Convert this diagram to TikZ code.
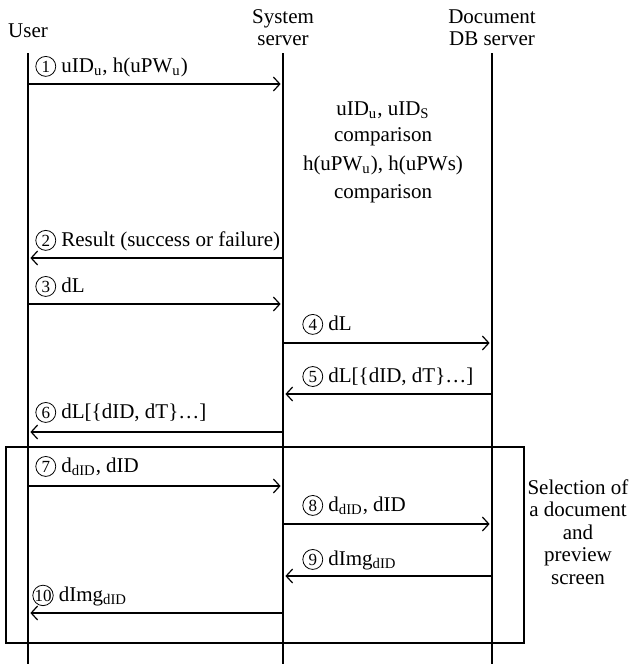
\documentclass[tikz,border=0pt]{standalone}
\usepackage{fontspec}
\setmainfont{Liberation Serif}
\usetikzlibrary{arrows.meta}
\newcommand\cnum[1]{\tikz[baseline=(cn.base)]\node[draw,circle,line width=0.4pt,inner sep=0pt,minimum size=0.95em,font=\fontsize{8.5}{9}\selectfont](cn){#1};}
\begin{document}
\begin{tikzpicture}[x=0.5pt,y=-0.5pt,
  font=\fontsize{10.5}{12}\selectfont,
  life/.style={line width=0.6pt},
  msg/.style={line width=0.6pt,-{Straight Barb[length=3.2pt,width=7pt]},shorten >=1.2pt},
  lbl/.style={anchor=base west,inner sep=0pt},
  ctr/.style={anchor=base,inner sep=0pt},
  hdr/.style={align=center,inner sep=0pt,anchor=base,font=\fontsize{10.5}{10.5}\selectfont}]
\useasboundingbox (0,0) rectangle (630,664);
% headers (base anchor = last line)
\node[hdr] (huser) at (28,38) {User};
\node[hdr] (hsys) at (283,45) {System\\server};
\node[hdr] (hdb) at (492,45) {Document\\DB server};
% lifelines
\coordinate (ut) at (28,53);  \coordinate (ub) at (28,664);
\coordinate (st) at (283,53); \coordinate (sb) at (283,664);
\coordinate (dt) at (492,53); \coordinate (db) at (492,664);
\draw[life] (ut) -- (ub);
\draw[life] (st) -- (sb);
\draw[life] (dt) -- (db);
% frame
\draw[life] (6,447) rectangle (524,643);
% message anchors
\foreach \n/\y in {1/84,2/258,3/304,6/432,7/486,10/613}{
  \coordinate (u\n) at (28,\y); \coordinate (s\n) at (283,\y);}
\foreach \n/\y in {4/343,5/394,8/524,9/576}{
  \coordinate (s\n) at (283,\y); \coordinate (d\n) at (492,\y);}
% messages
\draw[msg] (u1) -- (s1);
\draw[msg] (s2) -- (u2);
\draw[msg] (u3) -- (s3);
\draw[msg] (s4) -- (d4);
\draw[msg] (d5) -- (s5);
\draw[msg] (s6) -- (u6);
\draw[msg] (u7) -- (s7);
\draw[msg] (s8) -- (d8);
\draw[msg] (d9) -- (s9);
\draw[msg] (s10) -- (u10);
% labels
\node[lbl] (l1) at (35,72) {\cnum{1} uID\textsubscript{u}, h(uPW\textsubscript{u})};
\node[lbl] (l2) at (35,246) {\cnum{2} Result (success or failure)};
\node[lbl] (l3) at (35,292) {\cnum{3} dL};
\node[lbl] (l4) at (302,330) {\cnum{4} dL};
\node[lbl] (l5) at (302,382) {\cnum{5} dL[\{dID, dT\}\ldots]};
\node[lbl] (l6) at (35,418) {\cnum{6} dL[\{dID, dT\}\ldots]};
\node[lbl] (l7) at (35,472) {\cnum{7} d\textsubscript{dID}, dID};
\node[lbl] (l8) at (302,511) {\cnum{8} d\textsubscript{dID}, dID};
\node[lbl] (l9) at (302,565) {\cnum{9} dImg\textsubscript{dID}};
\node[lbl] (l10) at (32,601) {\cnum{10} dImg\textsubscript{dID}};
% comparison text
\node[ctr] (c1) at (383,115) {uID\textsubscript{u}, uID\textsubscript{S}};
\node[ctr] (c2) at (383,141) {comparison};
\node[ctr] (c3) at (383,170) {h(uPW\textsubscript{u}), h(uPWs)};
\node[ctr] (c4) at (383,198) {comparison};
% side text
\node[align=center,inner sep=0pt,anchor=base,font=\fontsize{10.5}{11.2}\selectfont] (side) at (578,584)
  {Selection of\\a document\\and\\preview\\screen};
\end{tikzpicture}
\end{document}
